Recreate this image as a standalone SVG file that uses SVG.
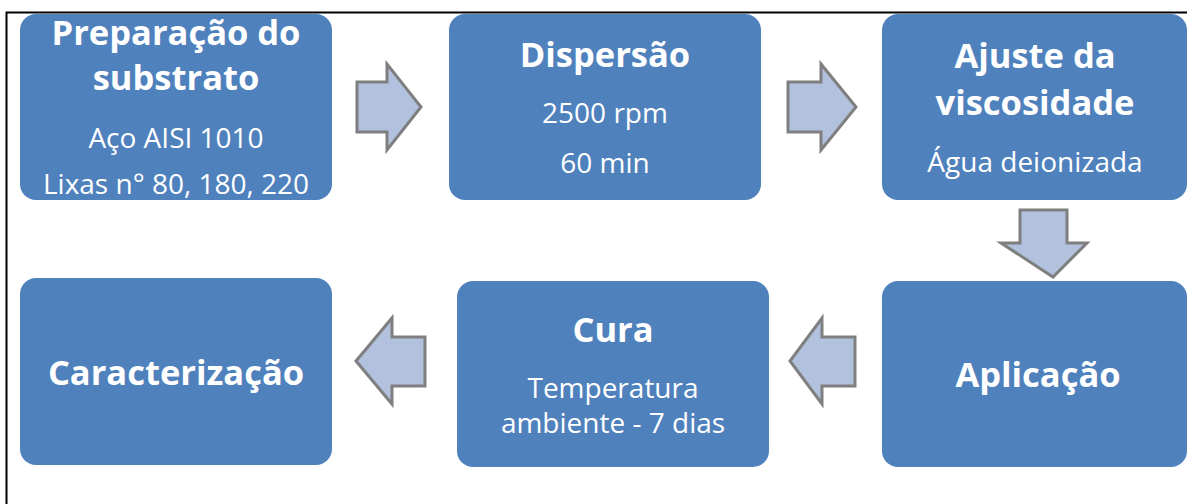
<svg xmlns="http://www.w3.org/2000/svg" width="1187" height="504" viewBox="0 0 1187 504">
<style>
.box{fill:#4f81bd;}
.arr{fill:#b2c2de;stroke:#7f7f7f;stroke-width:3;stroke-linejoin:miter;}
.t{font-family:"Open Sans",Lato,"Liberation Sans",sans-serif;fill:#ffffff;text-anchor:middle;}
.h{font-weight:bold;font-size:34.5px;}
.s{font-size:28px;}
</style>
<rect width="1187" height="504" fill="#ffffff"/>
<path d="M6.5 504 V12.5 H1187" fill="none" stroke="#000000" stroke-width="2"/>
<g id="node-preparacao">
<rect class="box" x="20" y="14" width="312" height="186" rx="16"/>
<text class="t h" x="176" y="45">Preparação do</text>
<text class="t h" x="176" y="90">substrato</text>
<text class="t s" x="176" y="148">Aço AISI 1010</text>
<text class="t s" x="176" y="194">Lixas n° 80, 180, 220</text>
</g>
<g id="node-dispersao">
<rect class="box" x="449" y="14" width="312" height="186" rx="16"/>
<text class="t h" x="605" y="67">Dispersão</text>
<text class="t s" x="605" y="123">2500 rpm</text>
<text class="t s" x="605" y="173">60 min</text>
</g>
<g id="node-ajuste">
<rect class="box" x="882" y="14" width="305" height="186" rx="16"/>
<text class="t h" x="1035" y="68">Ajuste da</text>
<text class="t h" x="1035" y="115">viscosidade</text>
<text class="t s" x="1035" y="172">Água deionizada</text>
</g>
<g id="node-aplicacao">
<rect class="box" x="882" y="281" width="305" height="186" rx="16"/>
<text class="t h" x="1038" y="387">Aplicação</text>
</g>
<g id="node-cura">
<rect class="box" x="457" y="281" width="312" height="186" rx="16"/>
<text class="t h" x="613" y="342">Cura</text>
<text class="t s" x="613" y="398">Temperatura</text>
<text class="t s" x="613" y="433">ambiente - 7 dias</text>
</g>
<g id="node-caracterizacao">
<rect class="box" x="20" y="278" width="312" height="187" rx="16"/>
<text class="t h" x="176" y="385">Caracterização</text>
</g>
<g id="connectors">
<polygon class="arr" points="357,82 387,82 387,64 421,107 387,150 387,132 357,132"/>
<polygon class="arr" points="788,82 821,82 821,64 856,107 821,150 821,132 788,132"/>
<polygon class="arr" points="1020,210 1067,210 1067,243 1087,243 1053,277 1001,243 1020,243" />
<polygon class="arr" points="855,337 822,337 822,318 790,361 822,404 822,386 855,386"/>
<polygon class="arr" points="425,337 392,337 392,318 356,361 392,404 392,386 425,386"/>
</g>
</svg>
